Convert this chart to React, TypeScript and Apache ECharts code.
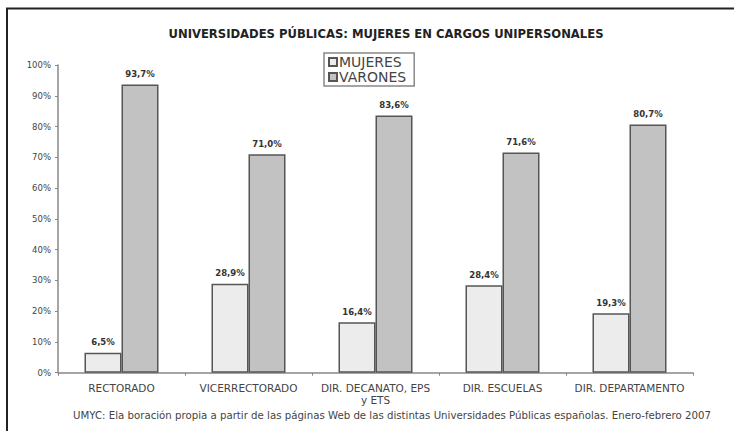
import React, { useEffect, useRef } from "react";
import * as echarts from "echarts";

const categories = ["RECTORADO", "VICERRECTORADO", "DIR. DECANATO, EPS\ny ETS", "DIR. ESCUELAS", "DIR. DEPARTAMENTO"];
const mujeres = [6.5, 28.9, 16.4, 28.4, 19.3];
const varones = [93.7, 71.0, 83.6, 71.6, 80.7];
const titleText = "UNIVERSIDADES PÚBLICAS: MUJERES EN CARGOS UNIPERSONALES";
const footerText = "UMYC: Ela boración propia a partir de las páginas Web de las distintas Universidades Públicas españolas. Enero-febrero 2007";

const fmt = (v: number) => v.toFixed(1).replace(".", ",") + "%";
const FONT = "DejaVu Sans, Verdana, sans-serif";

export default function App() {
  const ref = useRef<HTMLDivElement>(null);
  useEffect(() => {
    if (!ref.current) return;
    const chart = echarts.init(ref.current, null, { renderer: "svg" });
    const labelStyle = {
      show: true,
      position: "top" as const,
      distance: 6,
      fontFamily: FONT,
      fontSize: 8.5,
      fontWeight: "bold" as const,
      color: "#333",
      formatter: (p: any) => fmt(p.value),
    };
    chart.setOption({
      animation: false,
      backgroundColor: "#fff",
      title: {
        text: titleText,
        left: 381,
        top: 23,
        textAlign: "center",
        textStyle: { fontFamily: FONT, fontSize: 11.6, fontWeight: "bold", color: "#222" },
      },
      legend: {
        left: 324,
        top: 53,
        orient: "vertical",
        itemWidth: 8,
        itemHeight: 8,
        itemGap: 1,
        padding: [2, 8, 2, 4],
        borderColor: "#888",
        borderWidth: 1.5,
        textStyle: { fontFamily: FONT, fontSize: 14, color: "#444", padding: [0, 0, 0, -3] },
        data: [
          { name: "MUJERES", icon: "rect" },
          { name: "VARONES", icon: "rect" },
        ],
      },
      grid: { left: 58, right: 41, top: 65, bottom: 58.3, containLabel: false },
      xAxis: {
        type: "category",
        data: categories,
        axisLine: { lineStyle: { color: "#888", width: 1.5 } },
        axisTick: { show: true, length: 3, lineStyle: { color: "#888" } },
        axisLabel: {
          fontFamily: FONT,
          fontSize: 10.5,
          color: "#444",
          margin: 9,
          lineHeight: 12,
          interval: 0,
        },
      },
      yAxis: {
        type: "value",
        min: 0,
        max: 100,
        interval: 10,
        splitLine: { show: false },
        axisLine: { show: true, lineStyle: { color: "#888", width: 1.5 } },
        axisTick: { show: true, length: 3, lineStyle: { color: "#888" } },
        axisLabel: {
          formatter: (v: number) => v + "%",
          fontFamily: FONT,
          fontSize: 8.5,
          color: "#444",
          margin: 7,
        },
      },
      series: [
        {
          name: "MUJERES",
          type: "bar",
          data: mujeres,
          barWidth: 37,
          barGap: "0%",
          itemStyle: { color: "#ececec", borderColor: "#555", borderWidth: 1.5 },
          label: labelStyle,
        },
        {
          name: "VARONES",
          type: "bar",
          data: varones,
          barWidth: 37,
          barGap: "0%",
          itemStyle: { color: "#c2c2c2", borderColor: "#555", borderWidth: 1.5 },
          label: labelStyle,
        },
      ],
      graphic: [
        {
          type: "line",
          shape: { x1: 6, y1: 8.5, x2: 734, y2: 8.5 },
          style: { stroke: "#222", lineWidth: 2 },
          silent: true,
        },
        {
          type: "line",
          shape: { x1: 7, y1: 8, x2: 7, y2: 431 },
          style: { stroke: "#222", lineWidth: 2 },
          silent: true,
        },
        {
          type: "text",
          x: 392,
          y: 415,
          style: {
            text: footerText,
            align: "center",
            verticalAlign: "middle",
            fontFamily: FONT,
            fontSize: 10.2,
            fill: "#444",
          },
        },
      ],
    });
    return () => chart.dispose();
  }, []);
  return <div ref={ref} style={{ width: 734, height: 431, position: "fixed", left: 0, top: 0 }} />;
}
